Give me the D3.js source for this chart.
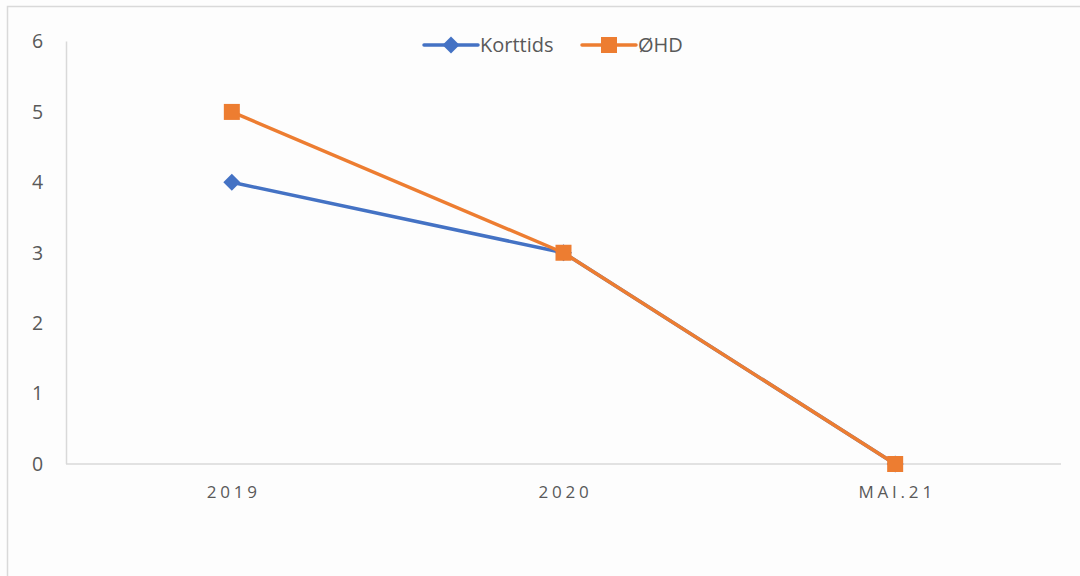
<!DOCTYPE html>
<html>
<head>
<meta charset="utf-8">
<script src="https://cdn.jsdelivr.net/npm/d3@7"></script>
<style>
  html, body { margin: 0; padding: 0; background: #fdfdfd; }
  svg { display: block; font-family: "Open Sans", "Liberation Sans", sans-serif; }
</style>
</head>
<body>
<svg id="chart" width="1080" height="576"></svg>
<script>
const categories = ["2019", "2020", "MAI.21"];
const korttids = [4, 3, 0];
const ohd = [5, 3, 0];
const yTicks = [0, 1, 2, 3, 4, 5, 6];

const series = [
  { name: "Korttids", values: korttids, color: "#4472c4", marker: "diamond" },
  { name: "ØHD", values: ohd, color: "#ed7d31", marker: "square" }
];

const svg = d3.select("#chart");
const W = 1080, H = 576;

// chart frame
svg.append("rect").attr("x", 0).attr("y", 0).attr("width", W).attr("height", H).attr("fill", "#fdfdfd");
svg.append("path")
  .attr("d", `M7.5,${H} V6.5 H${W}`)
  .attr("fill", "none").attr("stroke", "#d9d9d9").attr("stroke-width", 1.5);

const plot = { left: 66, right: 1061, top: 41.5, bottom: 464 };

const x = d3.scalePoint().domain(categories).range([plot.left, plot.right]).padding(0.5);
const y = d3.scaleLinear().domain([0, 6]).range([plot.bottom, plot.top]);

// y axis line
svg.append("line")
  .attr("x1", plot.left + 0.5).attr("x2", plot.left + 0.5)
  .attr("y1", y(6)).attr("y2", y(0))
  .attr("stroke", "#d9d9d9").attr("stroke-width", 1.5);
// x axis line
svg.append("line")
  .attr("x1", plot.left).attr("x2", plot.right)
  .attr("y1", y(0)).attr("y2", y(0))
  .attr("stroke", "#d9d9d9").attr("stroke-width", 1.5);

// y tick labels
svg.append("g").selectAll("text").data(yTicks).join("text")
  .attr("x", 37.5).attr("y", d => y(d))
  .attr("dy", "0.35em")
  .attr("text-anchor", "middle")
  .attr("font-size", 19.5)
  .attr("fill", "#595959")
  .text(d => d);

// x tick labels
svg.append("g").selectAll("text").data(categories).join("text")
  .attr("x", d => x(d) + 2).attr("y", 492)
  .attr("dy", "0.35em")
  .attr("text-anchor", "middle")
  .attr("font-size", 17)
  .attr("letter-spacing", "3.8px")
  .attr("fill", "#595959")
  .text(d => d);

const line = d3.line().x((d, i) => x(categories[i])).y(d => y(d));

function drawMarker(g, type, cx, cy, color) {
  if (type === "square") {
    g.append("rect").attr("x", cx - 8).attr("y", cy - 8).attr("width", 16).attr("height", 16).attr("fill", color);
  } else {
    const r = 8.5;
    g.append("path").attr("d", `M${cx},${cy - r} L${cx + r},${cy} L${cx},${cy + r} L${cx - r},${cy} Z`).attr("fill", color);
  }
}

// series lines and markers
series.forEach(s => {
  const g = svg.append("g");
  g.append("path").datum(s.values)
    .attr("d", line)
    .attr("fill", "none")
    .attr("stroke", s.color)
    .attr("stroke-width", 3.5)
    .attr("stroke-linejoin", "round")
    .attr("stroke-linecap", "round");
  s.values.forEach((v, i) => drawMarker(g, s.marker, x(categories[i]), y(v), s.color));
});

// legend
const legendItems = [
  { s: series[0], x0: 424 },
  { s: series[1], x0: 582 }
];
const ly = 45;
legendItems.forEach(({ s, x0 }) => {
  const g = svg.append("g");
  g.append("line").attr("x1", x0).attr("x2", x0 + 54).attr("y1", ly).attr("y2", ly)
    .attr("stroke", s.color).attr("stroke-width", 3.5).attr("stroke-linecap", "round");
  drawMarker(g, s.marker, x0 + 27, ly, s.color);
  g.append("text").attr("x", x0 + 56).attr("y", ly).attr("dy", "0.35em")
    .attr("font-size", 20).attr("fill", "#595959").text(s.name);
});
</script>
</body>
</html>
